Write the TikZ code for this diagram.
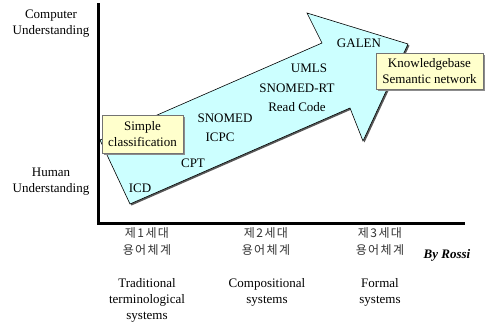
\documentclass[tikz,border=0pt]{standalone}
\usepackage{fontspec}
\setmainfont{Liberation Serif}
\newfontfamily\krfont[LetterSpace=12]{Noto Sans CJK KR}
\usepackage{tikz}
\usetikzlibrary{positioning}
\usetikzlibrary{shadows}

\definecolor{arrowcyan}{HTML}{CCFFFF}
\definecolor{noteyellow}{HTML}{FFFFCC}

\begin{document}
\begin{tikzpicture}[
    x=1pt, y=-1pt,
    % Define the styles
    lbl/.style={align=center, inner sep=0pt, font=\fontsize{13}{16}\selectfont},
    gen/.style={align=center, inner sep=0pt, text=black!80, font=\krfont\fontsize{12}{17}\selectfont},
    note/.style={draw=black!55, fill=noteyellow, align=center, inner sep=0pt,
        font=\fontsize{13}{16}\selectfont,
        drop shadow={shadow xshift=1.5pt, shadow yshift=-1.5pt, fill=black!45, opacity=1}},
    axis/.style={line width=3pt}
]
    \useasboundingbox (0,0) rectangle (496,327);

    % axes
    \coordinate (top) at (98,3);
    \coordinate (origin) at (98,223);
    \coordinate (xend) at (465,223);
    \draw[axis] (top) -- (origin) -- (xend);

    % big arrow
    \fill[black!65, shift={(1.5,1.5)}] (100,140) -- (322,43) -- (307,13) -- (408,44)
        -- (363,141) -- (350,108) -- (130,204) -- cycle;
    \draw[fill=arrowcyan, line width=0.6pt] (100,140) -- (322,43) -- (307,13) -- (408,44)
        -- (363,141) -- (350,108) -- (130,204) -- cycle;

    % terminologies on the arrow
    \node[lbl] (icd) at (140,188) {ICD};
    \node[lbl] (cpt) at (193,163) {CPT};
    \node[lbl] (icpc) at (220,137) {ICPC};
    \node[lbl] (snomed) at (225,118) {SNOMED};
    \node[lbl] (readcode) at (297,107) {Read Code};
    \node[lbl] (snomedrt) at (297,88) {SNOMED-RT};
    \node[lbl] (umls) at (309,68) {UMLS};
    \node[lbl] (galen) at (359,43) {GALEN};

    % notes
    \node[note, minimum width=81, minimum height=38] (simple) at (142.5,134)
        {Simple\\classification};
    \node[note, minimum width=107, minimum height=36] (knowledge) at (429.5,71)
        {Knowledgebase\\Semantic network};

    % y labels
    \node[lbl] (computer) at (51,23.5) {Computer\\Understanding};
    \node[lbl] (human) at (51,181.5) {Human\\Understanding};

    % generations
    \node[gen] (gen1) at (147,242) {제1세대\\용어체계};
    \node[gen] (gen2) at (266,242) {제2세대\\용어체계};
    \node[gen] (gen3) at (380,242) {제3세대\\용어체계};
    \node[lbl] (traditional) at (147,300) {Traditional\\terminological\\systems};
    \node[lbl] (compositional) at (267,292) {Compositional\\systems};
    \node[lbl] (formal) at (380,292) {Formal\\systems};
    \node[lbl, font=\fontsize{13}{16}\selectfont\bfseries\itshape] (rossi) at (447,255) {By Rossi};

\end{tikzpicture}
\end{document}
